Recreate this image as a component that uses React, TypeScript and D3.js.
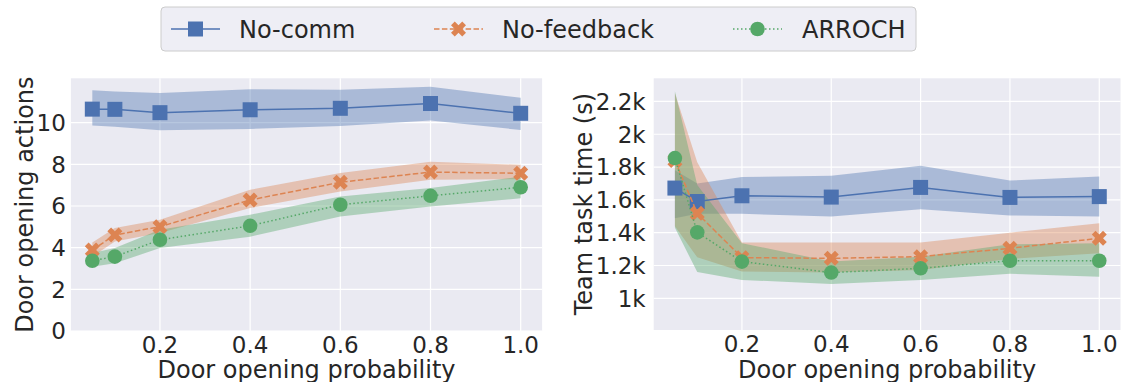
import React from "react";
import * as d3 from "d3";

const probs = [0.05, 0.1, 0.2, 0.4, 0.6, 0.8, 1.0];
const xTicks = [0.2, 0.4, 0.6, 0.8, 1.0];

// Left: door opening actions
const nocommActions = [10.65, 10.64, 10.48, 10.62, 10.69, 10.92, 10.45];
const nocommActionsLo = [9.86, 9.8, 9.64, 9.7, 9.84, 10.1, 9.65];
const nocommActionsHi = [11.56, 11.5, 11.42, 11.6, 11.58, 11.72, 11.2];

const nofbActions = [3.89, 4.61, 5.01, 6.29, 7.14, 7.63, 7.57];
const nofbActionsLo = [3.57, 4.3, 4.7, 5.9, 6.7, 7.26, 7.29];
const nofbActionsHi = [4.25, 4.94, 5.34, 6.78, 7.58, 8.13, 7.98];

const arrochActions = [3.37, 3.57, 4.38, 5.05, 6.06, 6.49, 6.9];
const arrochActionsLo = [3.09, 3.25, 3.98, 4.53, 5.5, 5.98, 6.37];
const arrochActionsHi = [3.74, 3.98, 4.86, 5.58, 6.46, 6.86, 7.41];

const actionTicks = [0, 2, 4, 6, 8, 10];

// Right: team task time
const nocommTime = [1672, 1590, 1625, 1617, 1676, 1615, 1620];
const nocommTimeLo = [1488, 1515, 1515, 1499, 1543, 1505, 1498];
const nocommTimeHi = [1780, 1700, 1739, 1747, 1808, 1718, 1743];

const nofbTime = [1840, 1518, 1248, 1244, 1254, 1305, 1366];
const nofbTimeLo = [1440, 1250, 1163, 1157, 1173, 1240, 1275];
const nofbTimeHi = [2250, 1830, 1340, 1340, 1340, 1400, 1457];

const arrochTime = [1855, 1402, 1224, 1157, 1183, 1229, 1229];
const arrochTimeLo = [1430, 1160, 1112, 1088, 1112, 1150, 1132];
const arrochTimeHi = [2262, 1690, 1336, 1224, 1254, 1330, 1335];

const timeTicks = [1000, 1200, 1400, 1600, 1800, 2000, 2200];
const timeTickLabels = ["1k", "1.2k", "1.4k", "1.6k", "1.8k", "2k", "2.2k"];

const seriesNames = ["No-comm", "No-feedback", "ARROCH"];
const colors = ["#4C72B0", "#DD8452", "#55A868"];
const dashes = ["none", "5.5,2.4", "1.5,2.5"];
const markers = ["square", "x", "circle"];

const BG = "#EAEAF2";
const TXT = "#262626";
const FONT = "DejaVu Sans, sans-serif";

function Marker({ type, x, y, color }: { type: string; x: number; y: number; color: string }) {
  const s = 15;
  if (type === "square") {
    return <rect x={x - s / 2} y={y - s / 2} width={s} height={s} fill={color} />;
  }
  if (type === "circle") {
    return <circle cx={x} cy={y} r={7.3} fill={color} />;
  }
  const pts: [number, number][] = [
    [-1, -2], [0, -1], [1, -2], [2, -1], [1, 0], [2, 1],
    [1, 2], [0, 1], [-1, 2], [-2, 1], [-1, 0], [-2, -1],
  ];
  const d = "M" + pts.map(([a, b]) => `${x + (a / 4) * s},${y + (b / 4) * s}`).join("L") + "Z";
  return <path d={d} fill={color} />;
}

type Panel = {
  x0: number; x1: number; y0: number; y1: number;
  yDomain: [number, number];
  yTicks: number[]; yTickLabels: string[];
  yLabel: string; yLabelX: number; yTickPad: number;
  vals: number[][]; lo: number[][]; hi: number[][];
};

function PanelView({ p }: { p: Panel }) {
  const x = d3.scaleLinear().domain([0.0025, 1.0475]).range([p.x0, p.x1]);
  const y = d3.scaleLinear().domain(p.yDomain).range([p.y1, p.y0]);
  const idx = probs.map((_, i) => i);
  const line = d3.line<number>().x((i) => x(probs[i])).y((i) => y(0));
  return (
    <g>
      <rect x={p.x0} y={p.y0} width={p.x1 - p.x0} height={p.y1 - p.y0} fill={BG} />
      {xTicks.map((t) => (
        <line key={"gx" + t} x1={x(t)} x2={x(t)} y1={p.y0} y2={p.y1} stroke="#fff" strokeWidth={1.2} />
      ))}
      {p.yTicks.map((t) => (
        <line key={"gy" + t} x1={p.x0} x2={p.x1} y1={y(t)} y2={y(t)} stroke="#fff" strokeWidth={1.2} />
      ))}
      {p.vals.map((_, s) => {
        const area = d3
          .area<number>()
          .x((i) => x(probs[i]))
          .y0((i) => y(p.lo[s][i]))
          .y1((i) => y(p.hi[s][i]));
        return <path key={"band" + s} d={area(idx) || ""} fill={colors[s]} fillOpacity={0.4} stroke="none" />;
      })}
      {p.vals.map((v, s) => {
        const l = d3.line<number>().x((i) => x(probs[i])).y((i) => y(v[i]));
        return (
          <g key={"ser" + s}>
            <path d={l(idx) || ""} fill="none" stroke={colors[s]} strokeWidth={1.5} strokeDasharray={dashes[s]} />
            {idx.map((i) => (
              <Marker key={i} type={markers[s]} x={x(probs[i])} y={y(v[i])} color={colors[s]} />
            ))}
          </g>
        );
      })}
      {xTicks.map((t) => (
        <text key={"tx" + t} x={x(t)} y={p.y1 + 22} textAnchor="middle" fontSize={23} fill={TXT} fontFamily={FONT}>
          {t.toFixed(1)}
        </text>
      ))}
      {p.yTicks.map((t, i) => (
        <text key={"ty" + t} x={p.x0 - p.yTickPad} y={y(t)} dy="0.36em" textAnchor="end" fontSize={23} fill={TXT} fontFamily={FONT}>
          {p.yTickLabels[i]}
        </text>
      ))}
      <text x={(p.x0 + p.x1) / 2} y={378} textAnchor="middle" fontSize={24} fill={TXT} fontFamily={FONT}>
        Door opening probability
      </text>
      <text
        transform={`translate(${p.yLabelX},${(p.y0 + p.y1) / 2}) rotate(-90)`}
        textAnchor="middle"
        fontSize={24}
        fill={TXT}
        fontFamily={FONT}
      >
        {p.yLabel}
      </text>
    </g>
  );
}

export default function App() {
  const left: Panel = {
    x0: 70.9, x1: 542.1, y0: 78.3, y1: 331,
    yDomain: [0, 12.13],
    yTicks: actionTicks, yTickLabels: actionTicks.map(String),
    yLabel: "Door opening actions", yLabelX: 33, yTickPad: 5,
    vals: [nocommActions, nofbActions, arrochActions],
    lo: [nocommActionsLo, nofbActionsLo, arrochActionsLo],
    hi: [nocommActionsHi, nofbActionsHi, arrochActionsHi],
  };
  const right: Panel = {
    x0: 653.7, x1: 1120.5, y0: 78.3, y1: 330,
    yDomain: [807, 2341],
    yTicks: timeTicks, yTickLabels: timeTickLabels,
    yLabel: "Team task time (s)", yLabelX: 591.5, yTickPad: 8,
    vals: [nocommTime, nofbTime, arrochTime],
    lo: [nocommTimeLo, nofbTimeLo, arrochTimeLo],
    hi: [nocommTimeHi, nofbTimeHi, arrochTimeHi],
  };
  const legendItems = [
    { lx: 171, tx: 239 },
    { lx: 434, tx: 502 },
    { lx: 733, tx: 802 },
  ];
  return (
    <svg
      width={1121}
      height={382}
      style={{ position: "absolute", left: 0, top: 0, background: "#fff" }}
      fontFamily={FONT}
    >
      <PanelView p={left} />
      <PanelView p={right} />
      <rect x={161} y={7} width={755} height={44} rx={4} fill="#EEEEF5" stroke="#CCCCCC" strokeWidth={1} />
      {seriesNames.map((n, s) => (
        <g key={n}>
          <line
            x1={legendItems[s].lx}
            x2={legendItems[s].lx + 49}
            y1={29}
            y2={29}
            stroke={colors[s]}
            strokeWidth={1.5}
            strokeDasharray={dashes[s]}
          />
          <Marker type={markers[s]} x={legendItems[s].lx + 24.5} y={29} color={colors[s]} />
          <text x={legendItems[s].tx} y={37.5} fontSize={24} fill={TXT} fontFamily={FONT}>
            {n}
          </text>
        </g>
      ))}
    </svg>
  );
}
